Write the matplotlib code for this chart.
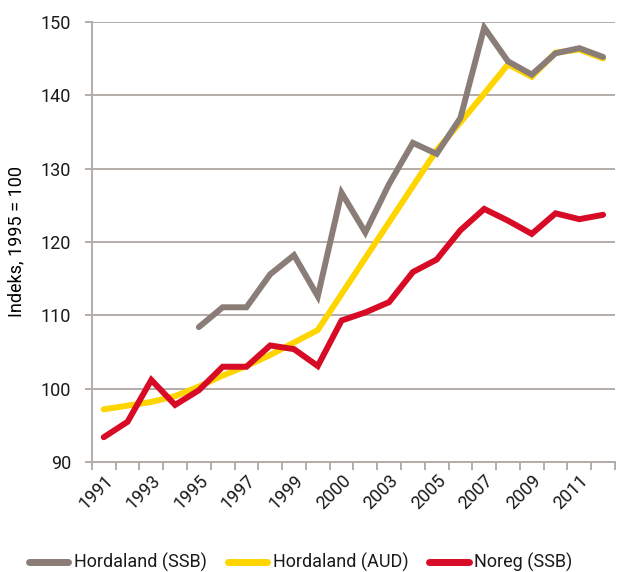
import matplotlib
matplotlib.use("Agg")
import matplotlib.pyplot as plt
import numpy as np

YEARS = list(range(1991, 2013))
# tick labels as printed on the chart (every other year; 2001 is printed as "2000")
TICK_LABELS = ["1991", "1993", "1995", "1997", "1999", "2000", "2003", "2005", "2007", "2009", "2011"]

HORDALAND_SSB = [None, None, None, None, 108.4, 111.1, 111.1, 115.6, 118.2, 112.6,
                 126.7, 121.3, 127.9, 133.5, 132.0, 136.9, 149.2, 144.6, 142.8, 145.7,
                 146.4, 145.2]
HORDALAND_AUD = [97.2, 97.7, 98.2, 99.0, 100.3, 101.8, 103.1, 104.6, 106.3, 108.0,
                 112.9, 117.8, 122.7, 127.6, 132.5, 136.3, 140.2, 144.2, 142.5, 145.8,
                 146.2, 145.0]
NOREG_SSB = [93.4, 95.5, 101.2, 97.8, 99.8, 103.0, 103.0, 105.9, 105.4, 103.1,
             109.3, 110.4, 111.8, 115.9, 117.6, 121.6, 124.5, 122.9, 121.1, 123.9,
             123.1, 123.7]

GRAY = "#8a7d77"
YELLOW = "#ffd500"
RED = "#d80b26"
AXIS = "#b3aca8"
TEXT = "#1a1a1a"

plt.rcParams["font.family"] = ["Roboto", "DejaVu Sans"]
plt.rcParams["text.color"] = TEXT

fig = plt.figure(figsize=(6.25, 5.72), dpi=100)
ax = fig.add_axes([0.147, 0.192, 0.837, 0.770])

x = np.arange(len(YEARS))
ssb = np.array([np.nan if v is None else v for v in HORDALAND_SSB])
lw = 4.3
ax.plot(x, HORDALAND_AUD, color=YELLOW, lw=lw, solid_capstyle="round", solid_joinstyle="miter",
        label="Hordaland (AUD)", zorder=3)
ax.plot(x, ssb, color=GRAY, lw=lw, solid_capstyle="round", solid_joinstyle="miter",
        label="Hordaland (SSB)", zorder=4)
ax.plot(x, NOREG_SSB, color=RED, lw=lw, solid_capstyle="round", solid_joinstyle="miter",
        label="Noreg (SSB)", zorder=5)

ax.set_xlim(-0.5, len(YEARS) - 0.5)
ax.set_ylim(90, 150)
ax.set_yticks(range(90, 151, 10))
ax.yaxis.grid(True, color=AXIS, lw=1.4)
ax.set_axisbelow(True)

ax.set_xticks(x[::2])
ax.set_xticklabels(TICK_LABELS, rotation=45, ha="right", va="top", rotation_mode="anchor")
ax.set_xticks(np.arange(-0.5, len(YEARS)), minor=True)
ax.tick_params(axis="x", which="major", length=0, labelsize=13, pad=7, labelcolor=TEXT)
ax.tick_params(axis="x", which="minor", length=6, width=1.4, color=AXIS)
ax.tick_params(axis="y", length=5, width=1.4, color=AXIS, labelsize=13, pad=10, labelcolor=TEXT)

for s in ["top", "right"]:
    ax.spines[s].set_visible(False)
for s in ["left", "bottom"]:
    ax.spines[s].set_color(AXIS)
    ax.spines[s].set_linewidth(1.4)

ax.set_ylabel("Indeks, 1995 = 100", fontsize=13)
ax.yaxis.set_label_coords(-0.128, 0.5)

handles, labels = ax.get_legend_handles_labels()
order = [1, 0, 2]
leg = fig.legend([handles[i] for i in order], [labels[i] for i in order],
                 loc="center left", bbox_to_anchor=(0.02, 0.016), ncol=3, frameon=False,
                 fontsize=13, handlelength=2.2, handletextpad=0.3, columnspacing=1.15)
for line in leg.get_lines():
    line.set_linewidth(5)
    line.set_solid_capstyle("round")

fig.savefig("out.png", dpi=100)
